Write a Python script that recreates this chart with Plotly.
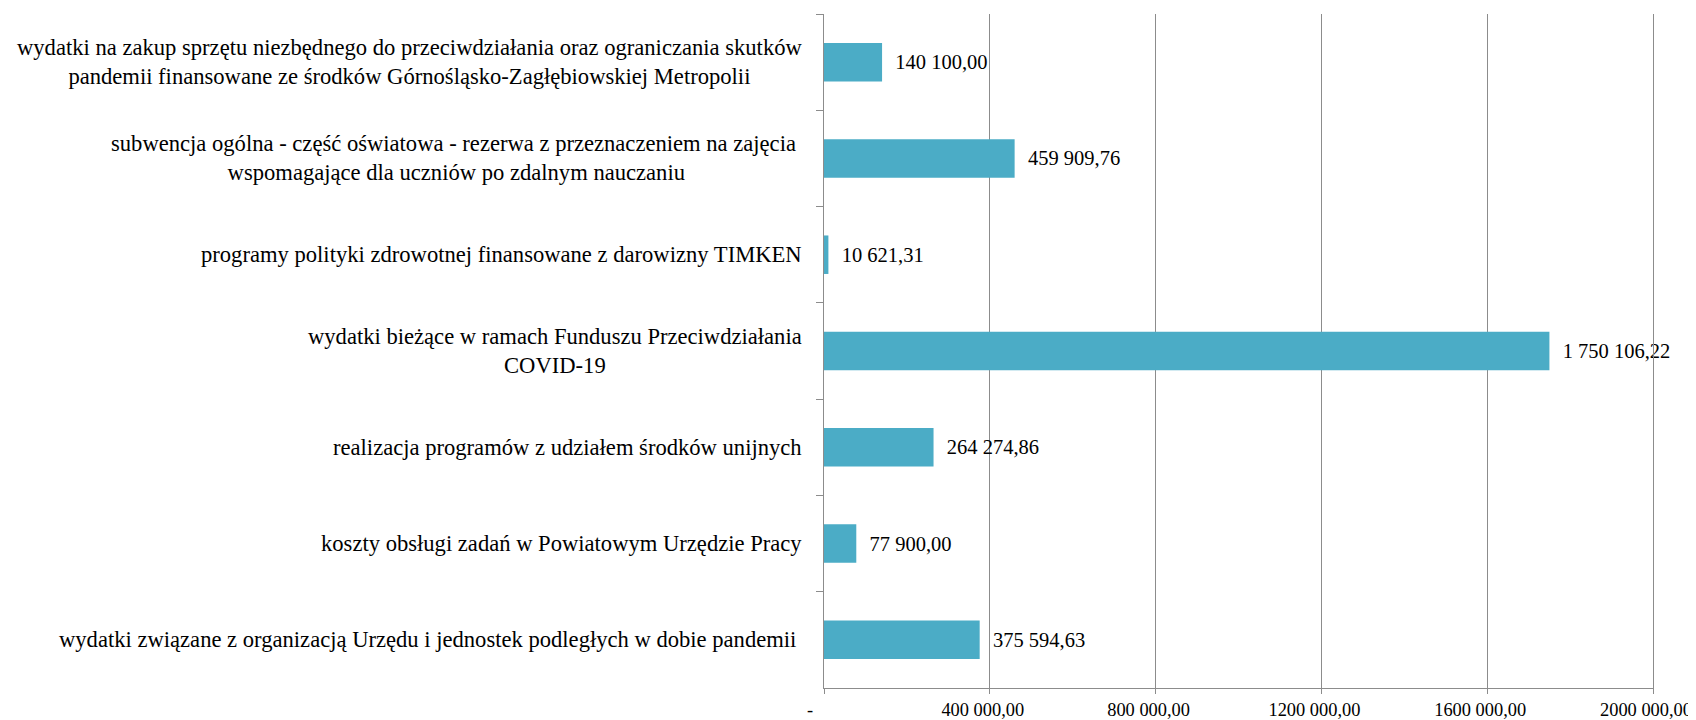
import plotly.graph_objects as go

categories = [
    "wydatki na zakup sprzętu niezbędnego do przeciwdziałania oraz ograniczania skutków<br>pandemii finansowane ze środków Górnośląsko-Zagłębiowskiej Metropolii",
    "subwencja ogólna - część oświatowa - rezerwa z przeznaczeniem na zajęcia\u00a0<br>wspomagające dla uczniów po zdalnym nauczaniu",
    "programy polityki zdrowotnej finansowane z darowizny TIMKEN",
    "wydatki bieżące w ramach Funduszu Przeciwdziałania<br>COVID-19",
    "realizacja programów z udziałem środków unijnych",
    "koszty obsługi zadań w Powiatowym Urzędzie Pracy",
    "wydatki związane z organizacją Urzędu i jednostek podległych w dobie pandemii\u00a0",
]
values = [140100.00, 459909.76, 10621.31, 1750106.22, 264274.86, 77900.00, 375594.63]
value_labels = ["140 100,00", "459 909,76", "10 621,31", "1 750 106,22",
                "264 274,86", "77 900,00", "375 594,63"]
tick_values = [0, 400000, 800000, 1200000, 1600000, 2000000]
tick_labels = ["-", "400 000,00", "800 000,00", "1200 000,00", "1600 000,00", "2000 000,00"]

FONT = "Liberation Serif, Times New Roman, serif"
NB = "\u00a0"
keys = [c.replace("<br>", " ").strip("\u00a0") for c in categories]

fig = go.Figure()
fig.add_trace(go.Bar(
    x=values, y=keys, orientation="h",
    marker=dict(color="#4BACC6", line=dict(width=0)),
    width=0.4,
    text=[NB * 2 + t for t in value_labels],
    textposition="outside",
    textfont=dict(family=FONT, size=20.5, color="#000000"),
    cliponaxis=False,
    constraintext="none",
    hoverinfo="skip",
))

annotations = []
for k, c in zip(keys, categories):
    annotations.append(dict(
        x=0, xref="paper", y=k, yref="y",
        text=c, showarrow=False, align="center",
        xanchor="right", yanchor="middle", xshift=-20,
        font=dict(family=FONT, size=22.6, color="#000000"),
    ))

# the page body adds an 8px offset; figure sized so it ends at the window edge
fig.update_layout(
    width=1688, height=712,
    margin=dict(l=816, r=43, t=6, b=32, autoexpand=False),
    paper_bgcolor="white", plot_bgcolor="white",
    showlegend=False,
    annotations=annotations,
    font=dict(family=FONT, color="#000000"),
    xaxis=dict(
        range=[0, 2000000],
        tickmode="array",
        tickvals=tick_values,
        ticktext=[tick_labels[0] + NB * 3] + tick_labels[1:],
        tickfont=dict(family=FONT, size=18.4, color="#000000"),
        ticklabeloverflow="allow",
        ticklabelshift=-7,
        showgrid=True, gridcolor="#8c8c8c", gridwidth=1,
        showline=True, linecolor="#8c8c8c", linewidth=1,
        ticks="outside", ticklen=5, tickcolor="#8c8c8c",
        zeroline=False, automargin=False,
    ),
    yaxis=dict(
        type="category",
        categoryorder="array", categoryarray=keys,
        autorange="reversed",
        showticklabels=False,
        ticks="outside", ticklen=7, tickcolor="#8c8c8c",
        tickson="boundaries",
        showline=True, linecolor="#8c8c8c", linewidth=1, mirror=True,
        showgrid=False, zeroline=False, automargin=False,
    ),
)

fig.write_html("out.html")
